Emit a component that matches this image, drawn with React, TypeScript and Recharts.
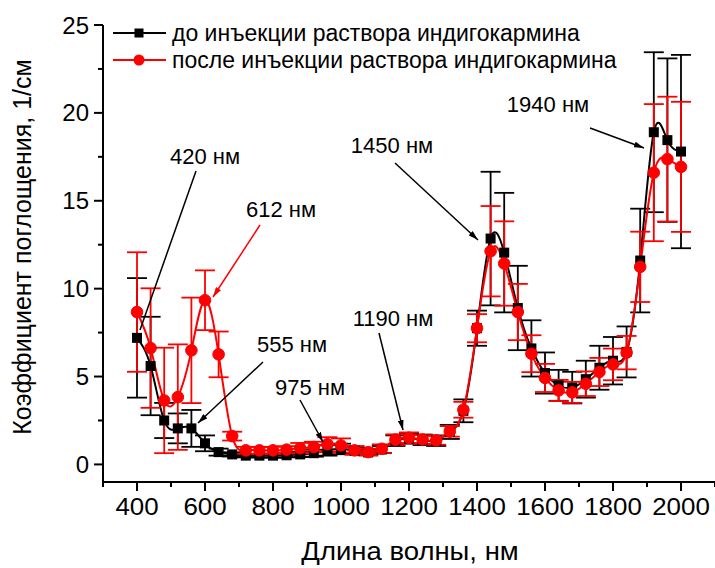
import { LineChart, Line, XAxis, YAxis, ErrorBar } from 'recharts';

// wavelength, nm
const wavelengths = [
  400, 440, 480, 520, 560, 600, 640, 680, 720, 760, 800, 840, 880, 920, 960, 1000, 1040, 1080, 1120, 1160,
  1200, 1240, 1280, 1320, 1360, 1400, 1440, 1480, 1520, 1560, 1600, 1640, 1680, 1720, 1760, 1800, 1840, 1880,
  1920, 1960, 2000,
];

// before injection
const before = [
  7.2, 5.6, 2.5, 2.05, 2.05, 1.2, 0.7, 0.57, 0.5, 0.5, 0.5, 0.52, 0.57, 0.64, 0.8, 0.88, 0.78, 0.68, 0.85, 1.35,
  1.48, 1.4, 1.35, 1.85, 3.05, 7.75, 12.85, 12.05, 8.9, 6.6, 5.2, 4.5, 4.37, 4.85, 5.5, 5.9, 6.4, 11.6,
  18.9, 18.45, 17.8,
];
const beforeErr = [
  3.4, 2.8, 1.0, 0.85, 1.05, 0.45, 0.2, 0.12, 0.1, 0.1, 0.12, 0.12, 0.15, 0.2, 0.3, 0.3, 0.2, 0.15, 0.2, 0.3,
  0.3, 0.3, 0.3, 0.4, 0.65, 1.0, 3.8, 3.4, 2.4, 1.6, 1.17, 0.88, 0.9, 1.05, 1.25, 1.35, 1.45, 2.95,
  4.55, 4.65, 5.5,
];

// after injection
const after = [
  8.67, 6.62, 3.64, 3.83, 6.49, 9.34, 6.26, 1.61, 0.8, 0.8, 0.8, 0.84, 0.92, 0.99, 1.15, 1.08, 0.8, 0.7, 0.89, 1.41,
  1.52, 1.42, 1.37, 1.88, 3.11, 7.75, 12.13, 11.43, 8.67, 6.3, 4.92, 4.21, 4.1, 4.59, 5.26, 5.69, 6.36, 11.24,
  16.6, 17.37, 16.93,
];
const afterErr = [
  3.4, 3.4, 3.0, 3.0, 3.0, 1.7, 1.3, 0.25, 0.2, 0.2, 0.2, 0.2, 0.3, 0.3, 0.4, 0.4, 0.25, 0.2, 0.25, 0.3,
  0.3, 0.25, 0.25, 0.3, 0.45, 0.8, 2.57, 2.4, 1.6, 1.05, 0.8, 0.6, 0.6, 0.7, 0.8, 0.9, 0.95, 2.0,
  3.9, 3.55, 3.7,
];

const xTicks = [300, 400, 500, 600, 700, 800, 900, 1000, 1100, 1200, 1300, 1400, 1500, 1600, 1700, 1800, 1900, 2000, 2100];
const xLabels = [400, 600, 800, 1000, 1200, 1400, 1600, 1800, 2000];
const yTicks = [0, 2.5, 5, 7.5, 10, 12.5, 15, 17.5, 20, 22.5, 25];
const yLabels = [0, 5, 10, 15, 20, 25];

const legendNames = ['до инъекции раствора индигокармина', 'после инъекции раствора индигокармина'];

const data = wavelengths.map((x, i) => ({
  x,
  before: before[i],
  beforeErr: beforeErr[i],
  after: after[i],
  afterErr: afterErr[i],
}));

const FONT = '"Liberation Sans", Arial, sans-serif';

const renderXTick = (props: any) => {
  const { x, y, payload } = props;
  const major = xLabels.includes(payload.value);
  return (
    <g>
      <line x1={x} x2={x} y1={y} y2={y + (major ? 9 : 5)} stroke="#000" strokeWidth={2} />
      {major && (
        <text
          transform={`translate(${x},${y + 33}) scale(1.08,1)`}
          textAnchor="middle"
          fontSize={24}
          fontFamily={FONT}
          fill="#000"
        >
          {payload.value}
        </text>
      )}
    </g>
  );
};

const renderYTick = (props: any) => {
  const { x, y, payload } = props;
  const major = yLabels.includes(payload.value);
  return (
    <g>
      <line x1={x} x2={x - (major ? 9 : 5)} y1={y} y2={y} stroke="#000" strokeWidth={2} />
      {major && (
        <text x={x - 14} y={y + 8.5} textAnchor="end" fontSize={24} fontFamily={FONT} fill="#000">
          {payload.value}
        </text>
      )}
    </g>
  );
};

const SquareDot = (props: any) => {
  const { cx, cy, index } = props;
  if (cx == null || cy == null) return <g key={index} />;
  return <rect key={index} x={cx - 5} y={cy - 5} width={10} height={10} fill="#000" />;
};

export default function App() {
  return (
    <div style={{ position: 'absolute', left: 0, top: 0, width: 715, height: 568, background: '#fff' }}>
      <LineChart width={715} height={568} data={data} margin={{ top: 25, right: 0, bottom: 0, left: 0 }}>
        <XAxis
          dataKey="x"
          type="number"
          domain={[300, 2100]}
          ticks={xTicks}
          interval={0}
          height={86}
          tickSize={0}
          tickMargin={0}
          tickLine={false}
          axisLine={{ stroke: '#000', strokeWidth: 2 }}
          tick={renderXTick}
          allowDataOverflow
        />
        <YAxis
          type="number"
          domain={[-1, 25]}
          ticks={yTicks}
          interval={0}
          width={103}
          tickSize={0}
          tickMargin={0}
          tickLine={false}
          axisLine={{ stroke: '#000', strokeWidth: 2 }}
          tick={renderYTick}
          allowDataOverflow
        />
        <Line
          dataKey="before"
          type="natural"
          stroke="#000"
          strokeWidth={2}
          dot={SquareDot}
          isAnimationActive={false}
        >
          <ErrorBar dataKey="beforeErr" width={10} strokeWidth={1.8} stroke="#000" />
        </Line>
        <Line
          dataKey="after"
          type="natural"
          stroke="#ff0000"
          strokeWidth={2}
          dot={{ r: 5.8, fill: '#ff0000', stroke: '#ff0000', strokeWidth: 1 }}
          isAnimationActive={false}
        >
          <ErrorBar dataKey="afterErr" width={10} strokeWidth={1.8} stroke="#ff0000" />
        </Line>
      </LineChart>

      <svg
        width={715}
        height={568}
        style={{ position: 'absolute', left: 0, top: 0, pointerEvents: 'none' }}
        fontFamily={FONT}
      >
        <defs>
          <marker id="ahBlack" viewBox="0 0 10 6" refX="10" refY="3" markerWidth="10" markerHeight="6" markerUnits="userSpaceOnUse" orient="auto">
            <path d="M0,0 L10,3 L0,6 z" fill="#000" />
          </marker>
          <marker id="ahRed" viewBox="0 0 10 6" refX="10" refY="3" markerWidth="10" markerHeight="6" markerUnits="userSpaceOnUse" orient="auto">
            <path d="M0,0 L10,3 L0,6 z" fill="#ff0000" />
          </marker>
        </defs>

        {/* legend */}
        <line x1={113} x2={166} y1={33} y2={33} stroke="#000" strokeWidth={2} />
        <rect x={134.5} y={28.5} width={9} height={9} fill="#000" />
        <text x={172} y={41} fontSize={23}>{legendNames[0]}</text>
        <line x1={113} x2={166} y1={60} y2={60} stroke="#ff0000" strokeWidth={2} />
        <circle cx={139} cy={60} r={5.5} fill="#ff0000" />
        <text x={172} y={68} fontSize={23}>{legendNames[1]}</text>

        {/* annotations */}
        <g fontSize={22} textAnchor="middle" fill="#000">
          <text x={205} y={164}>420 нм</text>
          <text x={281} y={217}>612 нм</text>
          <text x={292} y={352}>555 нм</text>
          <text x={310} y={395}>975 нм</text>
          <text x={393} y={326}>1190 нм</text>
          <text x={392} y={153}>1450 нм</text>
          <text x={548} y={112}>1940 нм</text>
        </g>
        <line x1={196} y1={171} x2={140} y2={330} stroke="#000" strokeWidth={1.5} />
        <line x1={260} y1={225} x2={213} y2={297} stroke="#ff0000" strokeWidth={1.5} markerEnd="url(#ahRed)" />
        <line x1={263} y1={362} x2={198} y2={423} stroke="#000" strokeWidth={1.5} markerEnd="url(#ahBlack)" />
        <line x1={300} y1={400} x2={323} y2={442} stroke="#000" strokeWidth={1.5} markerEnd="url(#ahBlack)" />
        <line x1={379} y1={333} x2={403} y2={430} stroke="#000" strokeWidth={1.5} markerEnd="url(#ahBlack)" />
        <line x1={395} y1={163} x2={478} y2={240} stroke="#000" strokeWidth={1.5} markerEnd="url(#ahBlack)" />
        <line x1={590} y1={128} x2={644} y2={148} stroke="#000" strokeWidth={1.5} markerEnd="url(#ahBlack)" />

        {/* axis titles */}
        <text transform="translate(410,560) scale(1.1,1)" fontSize={25} textAnchor="middle">Длина волны, нм</text>
        <text x={31} y={247} fontSize={25} textAnchor="middle" transform="rotate(-90 31 247)">
          Коэффициент поглощения, 1/см
        </text>
      </svg>
    </div>
  );
}
